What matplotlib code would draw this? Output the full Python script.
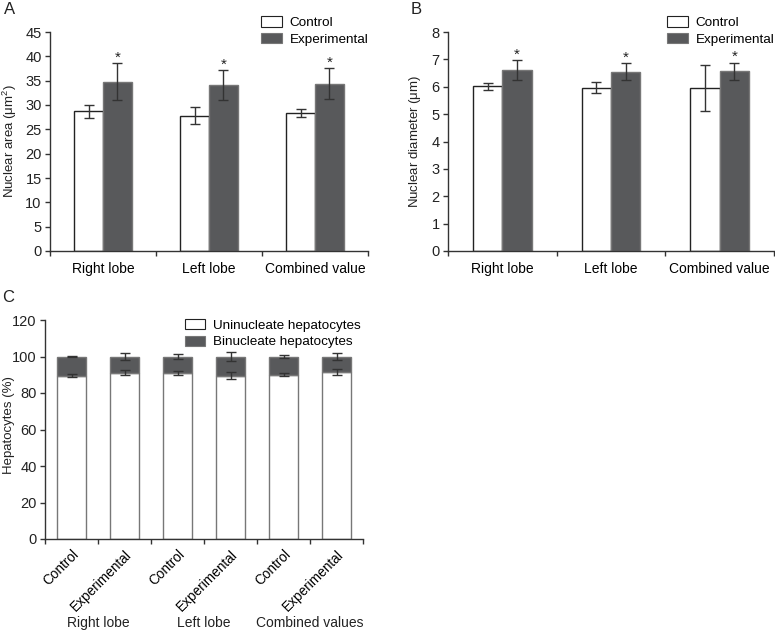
import numpy as np
import matplotlib.pyplot as plt
from matplotlib.patches import Patch

plt.rcParams['font.family'] = ['Liberation Sans', 'DejaVu Sans']
plt.rcParams['font.size'] = 10

groups = ['Right lobe', 'Left lobe', 'Combined value']

# panel A - nuclear area (um^2)
area_ctrl = [28.7, 27.8, 28.3]
area_ctrl_err = [1.4, 1.7, 0.85]
area_exp = [34.8, 34.1, 34.4]
area_exp_err = [3.8, 3.1, 3.2]

# panel B - nuclear diameter (um)
diam_ctrl = [6.02, 5.96, 5.97]
diam_ctrl_err = [0.13, 0.2, 0.84]
diam_exp = [6.61, 6.55, 6.57]
diam_exp_err = [0.35, 0.3, 0.31]

# panel C - hepatocytes (%)
c_labels = ['Control', 'Experimental'] * 3
c_groups = ['Right lobe', 'Left lobe', 'Combined values']
uni = [89.5, 91.2, 91.0, 89.5, 90.0, 91.5]
uni_err = [0.7, 1.6, 1.3, 2.0, 0.8, 1.8]
bi = [10.5, 8.8, 9.0, 10.5, 10.0, 8.5]
bi_err = [0.4, 1.8, 1.2, 2.3, 0.9, 1.9]

dark = '#58595b'
txt = '#222222'
W, H = 775, 632
fig = plt.figure(figsize=(W / 100, H / 100), dpi=100)


def style(ax):
    for s in ['top', 'right']:
        ax.spines[s].set_visible(False)
    for s in ['left', 'bottom']:
        ax.spines[s].set_color('#333333')
        ax.spines[s].set_linewidth(1)
    ax.tick_params(colors='#333333', labelcolor=txt, labelsize=10.5, width=1,
                   length=3.5, pad=2.5)


def grouped(ax, ctrl, ce, exp, ee, ymax, step, ylabel):
    x = np.arange(len(groups))
    w = 0.27
    ekw = dict(ecolor='#333333', elinewidth=1, capsize=3.5, capthick=1)
    ax.bar(x - w / 2, ctrl, w, color='white', edgecolor='#222222', linewidth=1,
           yerr=ce, error_kw=ekw)
    ax.bar(x + w / 2, exp, w, color=dark, edgecolor='#777777', linewidth=1,
           yerr=ee, error_kw=ekw)
    for xi, v, e in zip(x, exp, ee):
        ax.annotate('*', (xi + w / 2, v + e), xytext=(0, -1), textcoords='offset points',
                    ha='center', va='bottom', fontsize=11, color=txt)
    ax.set_xlim(-0.5, 2.5)
    ax.set_ylim(0, ymax)
    ax.set_yticks(np.arange(0, ymax + 0.01, step))
    ax.set_xticks([-0.5, 0.5, 1.5, 2.5])
    ax.set_xticklabels([])
    ax.set_xticks(x, minor=True)
    ax.set_xticklabels(groups, minor=True)
    style(ax)
    ax.tick_params(axis='x', which='minor', length=0, pad=8)
    ax.set_ylabel(ylabel, fontsize=9.5, color=txt)
    handles = [Patch(facecolor='white', edgecolor='#222222', linewidth=0.8),
               Patch(facecolor=dark, edgecolor='#777777', linewidth=0.8)]
    return handles


leg_kw = dict(loc='upper left', frameon=False, fontsize=9.7, handlelength=1.5,
              handleheight=0.8, handletextpad=0.6, labelspacing=0.3,
              borderaxespad=0, borderpad=0)

axA = fig.add_axes([50 / W, 1 - 251 / H, 318 / W, 219 / H])
h = grouped(axA, area_ctrl, area_ctrl_err, area_exp, area_exp_err, 45, 5,
            r'Nuclear area ($\mathregular{\mu m^2}$)')
axA.yaxis.set_label_coords(-0.098, 0.5)
axA.legend(h, ['Control', 'Experimental'], bbox_to_anchor=(0.665, 1.072), **leg_kw)

axB = fig.add_axes([448 / W, 1 - 251 / H, 326 / W, 219 / H])
h = grouped(axB, diam_ctrl, diam_ctrl_err, diam_exp, diam_exp_err, 8, 1,
            r'Nuclear diameter ($\mathregular{\mu m}$)')
axB.yaxis.set_label_coords(-0.077, 0.5)
axB.legend(h, ['Control', 'Experimental'], bbox_to_anchor=(0.673, 1.072), **leg_kw)

# panel C
axC = fig.add_axes([45 / W, 1 - 539 / H, 318 / W, 219 / H])
xc = np.arange(6)
wc = 0.55
ekw = dict(ecolor='#333333', elinewidth=1, capsize=3.5, capthick=1)
axC.bar(xc, uni, wc, color='white', edgecolor='#777777', linewidth=1)
axC.bar(xc, bi, wc, bottom=uni, color=dark, edgecolor='#777777', linewidth=1)
axC.errorbar(xc, uni, yerr=uni_err, fmt='none', **ekw)
axC.errorbar(xc, np.array(uni) + np.array(bi), yerr=bi_err, fmt='none', **ekw)
axC.set_xlim(-0.5, 5.5)
axC.set_ylim(0, 120)
axC.set_yticks(np.arange(0, 121, 20))
axC.set_xticks(np.arange(-0.5, 6, 1))
axC.set_xticklabels([])
axC.set_xticks(xc, minor=True)
axC.set_xticklabels(c_labels, minor=True, rotation=45, ha='right', rotation_mode='anchor')
style(axC)
axC.tick_params(axis='x', which='minor', length=0, pad=6, labelsize=9.8)
axC.set_ylabel('Hepatocytes (%)', fontsize=9.5, color=txt)
axC.yaxis.set_label_coords(-0.095, 0.52)
for i, g in enumerate(c_groups):
    axC.text(2 * i + 0.5, -0.385, g, transform=axC.get_xaxis_transform(),
             ha='center', va='center', fontsize=10, color=txt)
hc = [Patch(facecolor='white', edgecolor='#222222', linewidth=0.8),
      Patch(facecolor=dark, edgecolor='#777777', linewidth=0.8)]
axC.legend(hc, ['Uninucleate hepatocytes', 'Binucleate hepatocytes'],
           bbox_to_anchor=(0.44, 1.006), **leg_kw)

fig.text(4 / W, 1 - 9 / H, 'A', fontsize=12, color=txt, va='center')
fig.text(411 / W, 1 - 9 / H, 'B', fontsize=12, color=txt, va='center')
fig.text(2 / W, 1 - 297 / H, 'C', fontsize=12, color=txt, va='center')

fig.savefig('out.png', dpi=100)
